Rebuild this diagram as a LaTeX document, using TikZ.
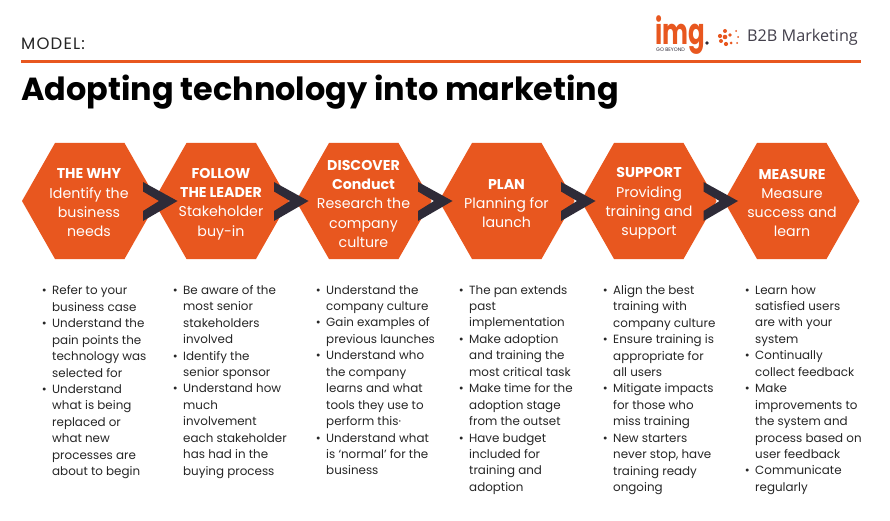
\documentclass[tikz,border=0pt]{standalone}
\usepackage{graphicx}
\usepackage{fontspec}
\setmainfont{Poppins}
\newfontfamily\logofont{Open Sans}
\newfontfamily\widefont[LetterSpace=7]{Poppins}
\definecolor{brandorange}{HTML}{E8571F}
\definecolor{chevdark}{HTML}{2E2B38}
\definecolor{bodyink}{HTML}{262626}
\newcommand{\bul}{\llap{\textbullet\hspace{5.5pt}}}
\tikzset{
  hexlabel/.style={text=white,align=center,inner sep=0pt,font=\fontsize{14.2}{19.3}\selectfont},
  listcol/.style={text=bodyink,align=left,anchor=north west,inner sep=0pt,font=\fontsize{11.9}{16.45}\selectfont},
}
\newcommand{\hexshape}[1]{\fill[brandorange] (#1,201) -- ++(33,-58) -- ++(69.5,0) -- ++(33,58) -- ++(-33,58) -- ++(-69.5,0) -- cycle;}
\newcommand{\chevshape}[1]{\fill[chevdark] (#1,182) -- ++(34.5,19) -- ++(-34.5,20) -- ++(0,-10) -- ++(16,-10) -- ++(-16,-9.5) -- cycle;}
\begin{document}
\begin{tikzpicture}[x=1pt,y=-1pt]
\useasboundingbox (0,0) rectangle (890,521);
\fill[white] (0,0) rectangle (890,521);
% header
\node[anchor=west,inner sep=0pt,text=bodyink,font=\widefont\fontsize{16.5}{18}\selectfont] (model) at (21,44) {MODEL:};
\fill[brandorange] (21,60.4) -- (860.5,60.4) -- (860.5,62.8) -- (21,62.8) -- cycle;
\node[anchor=west,inner sep=0pt,text=black,font=\fontsize{31.9}{36}\selectfont\bfseries] (title) at (21,92) {Adopting technology into marketing};
% logos
\node[anchor=base west,inner sep=0pt,text=brandorange,font=\fontsize{36}{36}\selectfont\bfseries] (img) at (655.5,45) {\scalebox{.68}[1]{img}};
\fill[chevdark] (707,43) circle (1.8);
\node[anchor=west,inner sep=0pt,text=chevdark,font=\fontsize{5}{5}\selectfont] (beyond) at (656,49.5) {GO BEYOND};
\foreach \px/\py/\pr in {725/31/2.0,720/36/2.1,725/37/2.3,730/35/1.8,721/41/2.0,726/44/2.1,731/43/1.5,736/31/1.0,738/37/1.0,737/43/1.0}
  \fill[brandorange] (\px,\py) circle (\pr);
\node[anchor=west,inner sep=0pt,text=chevdark!90,font=\logofont\fontsize{16.2}{18}\selectfont] (b2b) at (747,37) {B2B Marketing};
% hexagons
\hexshape{22}\hexshape{153.5}\hexshape{296}\hexshape{439}\hexshape{581}\hexshape{724}
\chevshape{143}\chevshape{274}\chevshape{418}\chevshape{561}\chevshape{703.5}
\node[hexlabel] (h1) at (89,203) {\textbf{THE WHY}\\Identify the\\business\\needs};
\node[hexlabel] (h2) at (221,204) {\textbf{FOLLOW}\\\textbf{THE LEADER}\\Stakeholder\\buy-in};
\node[hexlabel] (h3) at (363.5,204) {\textbf{DISCOVER}\\\textbf{Conduct}\\Research the\\company\\culture};
\node[hexlabel] (h4) at (506.5,203.5) {\textbf{PLAN}\\Planning for\\launch};
\node[hexlabel] (h5) at (649,203.5) {\textbf{SUPPORT}\\Providing\\training and\\support};
\node[hexlabel] (h6) at (792,203) {\textbf{MEASURE}\\Measure\\success and\\learn};
% lists
\node[listcol] (l1) at (52,285.5) {\bul Refer to your\\business case\\\bul Understand the\\pain points the\\technology was\\selected for\\\bul Understand\\what is being\\replaced or\\what new\\processes are\\about to begin};
\node[listcol] (l2) at (183,285) {\bul Be aware of the\\most senior\\stakeholders\\involved\\\bul Identify the\\senior sponsor\\\bul Understand how\\much\\involvement\\each stakeholder\\has had in the\\buying process};
\node[listcol] (l3) at (326,285) {\bul Understand the\\company culture\\\bul Gain examples of\\previous launches\\\bul Understand who\\the company\\learns and what\\tools they use to\\perform this·\\\bul Understand what\\is ‘normal’ for the\\business};
\node[listcol] (l4) at (469,285) {\bul The pan extends\\past\\implementation\\\bul Make adoption\\and training the\\most critical task\\\bul Make time for the\\adoption stage\\from the outset\\\bul Have budget\\included for\\training and\\adoption};
\node[listcol] (l5) at (613,285) {\bul Align the best\\training with\\company culture\\\bul Ensure training is\\appropriate for\\all users\\\bul Mitigate impacts\\for those who\\miss training\\\bul New starters\\never stop, have\\training ready\\ongoing};
\node[listcol] (l6) at (755,285) {\bul Learn how\\satisfied users\\are with your\\system\\\bul Continually\\collect feedback\\\bul Make\\improvements to\\the system and\\process based on\\user feedback\\\bul Communicate\\regularly};
\end{tikzpicture}
\end{document}
